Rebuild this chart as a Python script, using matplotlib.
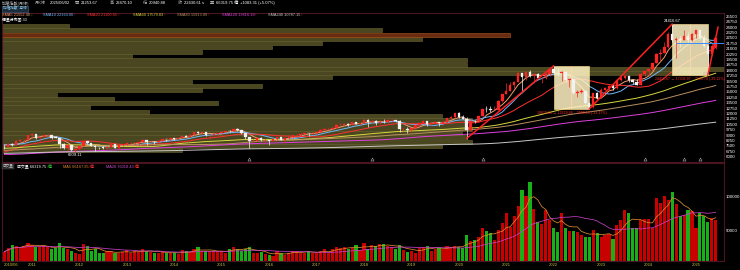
import numpy as np
import pandas as pd
import matplotlib
matplotlib.use('Agg')
import matplotlib.pyplot as plt
from matplotlib.patches import Rectangle

plt.rcParams['font.family'] = ['Liberation Sans', 'Noto Sans CJK TC', 'DejaVu Sans']

# ---------------- data (TAIEX monthly, 2010/06 - 2025/06) ----------------
start_year, start_month = 2010, 6

opens = [7374, 7329, 7760, 7616, 8237, 8287, 8372,
         8972, 9145, 8600, 8683, 9007, 9044, 8652, 8644, 7741, 7225, 7587, 6904,
         7072, 7517, 8121, 7933, 7501, 7301, 7296, 7270, 7398, 7715, 7166, 7580,
         7699, 7850, 7907, 7919, 8093, 8254, 8062, 8107, 7970, 8173, 8450, 8406,
         8612, 8462, 8639, 8849, 8791, 9075, 9393, 9315, 9436, 8966, 8974, 9187,
         9307, 9361, 9622, 9586, 9820, 9701, 9323, 8665, 8175, 8181, 8554, 8320,
         8338, 8145, 8411, 8745, 8377, 8536, 8666, 8984, 9068, 9167, 9290, 9240,
         9253, 9448, 9750, 9812, 9872, 10040, 10395, 10427, 10585, 10383, 10793, 10560,
         10642, 11104, 10815, 10919, 10657, 10875, 10836, 11057, 11063, 11006, 9802, 9888,
         9727, 9932, 10389, 10641, 10967, 10498, 10730, 10824, 10618, 10829, 11358, 11489,
         11997, 11495, 11292, 9708, 10992, 10942, 11621, 12665, 12592, 12516, 12546, 13723,
         14733, 15138, 15953, 16431, 17567, 17068, 17755, 17247, 17490, 16935, 16987, 17428,
         18219, 17674, 17652, 17693, 16593, 16807, 14826, 15000, 15095, 13425, 12949, 14880,
         14138, 15265, 15504, 15868, 15579, 16579, 16916, 17145, 16635, 16353, 16001, 17433,
         17931, 18151, 18966, 20294, 20397, 21175, 23033, 22199, 22268, 22225, 22820, 22263,
         23035, 23526, 22451, 21298, 20235, 21253.67]

highs = [7600, 7876, 7879, 8261, 8391, 8500, 8990,
         9220, 9145, 8760, 9090, 9106, 9050, 8934, 8644, 7831, 7740, 7637, 7219,
         7573, 8170, 8170, 7952, 7577, 7342, 7485, 7550, 7788, 7735, 7597, 7738,
         7903, 8000, 7972, 8093, 8399, 8254, 8235, 8167, 8266, 8465, 8451, 8623,
         8646, 8656, 8902, 8968, 9101, 9397, 9569, 9455, 9440, 9016, 9231, 9315,
         9521, 9631, 9701, 10014, 9973, 9757, 9335, 8714, 8488, 8733, 8671, 8484,
         8347, 8421, 8787, 8755, 8570, 8703, 9028, 9175, 9255, 9399, 9332, 9400,
         9498, 9810, 9972, 9957, 10086, 10513, 10609, 10626, 10637, 10812, 10854, 10739,
         11270, 11164, 11070, 11069, 11130, 11178, 11101, 11167, 11064, 11057, 10007, 10061,
         9986, 10408, 10655, 11012, 10967, 10800, 10936, 10830, 10977, 11386, 11589, 12000,
         12197, 11780, 11465, 11093, 11068, 11690, 12686, 13031, 12976, 13031, 13878, 14760,
         16238, 16341, 16440, 17709, 17600, 17890, 18034, 17591, 17671, 17061, 17817, 18248,
         18619.61, 18321, 17961, 17720, 16835, 16808, 15205, 15400, 15154, 13488, 14885, 15045,
         15493, 15684, 15931, 16021, 16634, 17334, 17463, 17207, 16811, 16765, 17458, 17946,
         18154, 18983, 20388, 20883, 21858, 23300, 24416.67, 22574, 22712, 23607, 23328, 23119,
         23546, 23740, 22830, 21500, 21737, 22470.10]

lows = [7032, 7282, 7550, 7605, 8042, 8097, 8349,
        8797, 8505, 8183, 8596, 8805, 8511, 8570, 7148, 7022, 6964, 6854, 6609.11,
        7030, 7538, 7800, 7432, 6857, 7000, 7072, 7263, 7364, 7163, 7068, 7504,
        7648, 7720, 7798, 7676, 8050, 7663, 7987, 7774, 7934, 8140, 8194, 8339,
        8321, 8403, 8581, 8720, 8691, 9048, 9183, 9167, 8935, 8501, 8845, 8860,
        9001, 9370, 9426, 9569, 9544, 9216, 8482, 7203, 8016, 8150, 8187, 8051,
        7628, 8112, 8350, 8332, 8053, 8406, 8618, 8911, 8932, 9070, 8852, 9044,
        9218, 9451, 9673, 9722, 9867, 10042, 10395, 10356, 10305, 10381, 10484, 10452,
        10664, 10189, 10625, 10370, 10571, 10607, 10725, 10829, 10807, 9400, 9564, 9319,
        9456, 9906, 10230, 10642, 10267, 10450, 10666, 10316, 10600, 10749, 11257, 11402,
        11401, 11268, 8523, 9619, 10631, 10880, 11614, 12236, 12206, 12507, 12504, 13642,
        14732, 15072, 15543, 16383, 15159, 16658, 17035, 16249, 16759, 16162, 16738, 17168,
        17450, 17227, 16529, 16395, 15616, 14713, 14342, 14887, 13298, 12629.48, 12800, 13981,
        14130, 15200, 15195, 15315, 15354, 16458, 16759, 16431, 16097, 15910, 15941, 17183,
        17188, 17950, 18996, 19302, 20362, 21136, 21929, 19663, 21190, 22180, 21908, 22007,
        22521, 22400, 21200, 17306.97, 20108, 20940.88]

closes = [7329, 7760, 7616, 8237, 8287, 8372, 8972,
          9145, 8600, 8683, 9007, 9044, 8652, 8644, 7741, 7225, 7587, 6904, 7072,
          7517, 8121, 7933, 7501, 7301, 7296, 7270, 7398, 7715, 7166, 7580, 7699,
          7850, 7907, 7919, 8093, 8254, 8062, 8107, 7970, 8173, 8450, 8406, 8612,
          8462, 8639, 8849, 8791, 9075, 9393, 9315, 9436, 8966, 8974, 9187, 9307,
          9361, 9622, 9586, 9820, 9701, 9323, 8665, 8175, 8181, 8554, 8320, 8338,
          8145, 8411, 8745, 8377, 8536, 8666, 8984, 9068, 9167, 9290, 9240, 9253,
          9448, 9750, 9812, 9872, 10040, 10395, 10427, 10585, 10383, 10793, 10560, 10642,
          11104, 10815, 10919, 10657, 10875, 10836, 11057, 11063, 11006, 9802, 9888, 9727,
          9932, 10389, 10641, 10967, 10498, 10730, 10824, 10618, 10829, 11358, 11489, 11997,
          11495, 11292, 9708, 10992, 10942, 11621, 12665, 12592, 12516, 12546, 13723, 14733,
          15138, 15953, 16431, 17567, 17068, 17755, 17247, 17490, 16935, 16987, 17428, 18219,
          17674, 17652, 17693, 16593, 16807, 14826, 15000, 15095, 13425, 12949, 14880, 14138,
          15265, 15504, 15868, 15579, 16579, 16916, 17145, 16635, 16353, 16001, 17433, 17931,
          18151, 18966, 20294, 20397, 21175, 23033, 22199, 22268, 22225, 22820, 22263, 23035,
          23526, 22451, 21298, 20235, 21347.30, 22430.61]

# monthly turnover (億)
volumes = [18400, 23400, 29000, 26900, 25800, 26900, 32000,
           29000, 25000, 26000, 27000, 25000, 22000, 24000, 31000, 24000, 22000, 20000, 17000,
           15000, 30000, 27000, 20000, 22000, 16000, 16000, 19000, 20000, 16000, 17000, 18000,
           21000, 16000, 19000, 18000, 22000, 20000, 18000, 16000, 17000, 19000, 16000, 16000,
           17000, 15000, 21000, 19000, 18000, 22000, 26000, 19000, 19000, 19000, 19000, 20000,
           19000, 17000, 23000, 26000, 22000, 20000, 22000, 26000, 17000, 17000, 18000, 15000,
           14000, 12000, 19000, 16000, 14000, 17000, 19000, 19000, 17000, 17000, 20000, 16000,
           17000, 19000, 22000, 17000, 22000, 25000, 24000, 26000, 23000, 24000, 29000, 21000,
           31000, 23000, 28000, 27000, 30000, 30000, 27000, 25000, 23000, 28000, 21000, 18000,
           20000, 17000, 24000, 26000, 27000, 20000, 23000, 24000, 23000, 27000, 25000, 27000,
           26000, 24000, 44000, 34000, 36000, 40000, 53000, 50000, 46000, 36000, 51000, 61000,
           76000, 55000, 71000, 86000, 110000, 101000, 123000, 82000, 62000, 60000, 80000, 66000,
           53000, 48000, 76000, 53000, 50000, 50000, 48000, 43000, 41000, 41000, 51000, 46000,
           41000, 43000, 45000, 38000, 58000, 66000, 81000, 76000, 54000, 54000, 66000, 67000,
           67000, 53000, 99000, 91000, 101000, 96000, 107000, 90000, 71000, 73000, 81000, 79000,
           53000, 76000, 72000, 63000, 68000, 66319.75]

# earlier monthly closes (2000/01 - 2010/05) used only to warm up the long moving averages
history_close = [9744, 9435, 9854, 8820, 8940, 8265, 8114, 7616, 6185, 5545, 5256, 4739,
                 5936, 5674, 5797, 5381, 4935, 4883, 4352, 4464, 3636, 3903, 4441, 5551,
                 5873, 5841, 6167, 6065, 5675, 5153, 4940, 4764, 4191, 4579, 4680, 4452,
                 4941, 4432, 4321, 4148, 4555, 4872, 5318, 5650, 5611, 6045, 5771, 5890,
                 6375, 6750, 6522, 6117, 5977, 5840, 5420, 5765, 5845, 5706, 5845, 6140,
                 5994, 6207, 6006, 5819, 6012, 6242, 6311, 6033, 6119, 5764, 6203, 6548,
                 6532, 6562, 6613, 7171, 6846, 6704, 6455, 6611, 6884, 7021, 7321, 7823,
                 7699, 7901, 7884, 7875, 8145, 8883, 9287, 8982, 9411, 9711, 8586, 8506,
                 7521, 8412, 8572, 8920, 8619, 7523, 7024, 7046, 5719, 4870, 4460, 4591,
                 4248, 4557, 5210, 6413, 6890, 6432, 6979, 6826, 7509, 7340, 7582, 8188,
                 7640, 7436, 7920, 8004, 7374]

# volume-by-price profile, 30 bins from lowest low to highest high (bottom -> top)
profile_vol = [180, 440, 470, 465, 460, 470, 465, 470, 440, 147,
               88, 216, 112, 55, 200, 260, 190, 330, 700, 722,
               465, 465, 130, 200, 270, 320, 420, 508, 380, 67]
profile_highlight_bin = 27

sma_periods = [5, 10, 20, 60, 80, 120, 240]
sma_colors = ['#f0a070', '#70b8ff', '#ff3030', '#d8d840', '#b89060', '#e040e0', '#c8c8c8']
sma_labels = ['SMA5 21552.40', 'SMA10 22163.00', 'SMA20 21100.65', 'SMA60 17579.83',
              'SMA80 15913.89', 'SMA120 13816.18', 'SMA240 10787.15']
sma_arrows = [('↓', '#30d030'), ('↑', '#ff3030'), ('↑', '#ff3030'), ('↑', '#ff3030'),
              ('↑', '#ff3030'), ('↑', '#ff3030'), ('↑', '#ff3030')]

box_ranges = [("2022/01", "2022/10"), ("2024/07", "2025/04")]
trend_pairs = [("2020/03", "2022/01"), ("2022/10", "2024/07"), ("2025/04", "2025/06")]
marker_months = ["2015/08", "2018/03", "2020/07", "2023/12", "2024/10", "2025/02"]
ref_line_price = 21800

# ---------------- derived ----------------
n = len(closes)
months = []
yy, mm = start_year, start_month
for _ in range(n):
    months.append(f"{yy}/{mm:02d}")
    mm += 1
    if mm > 12:
        mm = 1
        yy += 1
midx = {m: i for i, m in enumerate(months)}

o = np.array(opens, float); h = np.array(highs, float)
l = np.array(lows, float); c = np.array(closes, float)
v = np.array(volumes, float)
x = np.arange(n)

full = pd.Series(list(history_close) + list(closes), dtype=float)
off = len(history_close)

W, H = 740, 270
fig = plt.figure(figsize=(W / 100, H / 100), dpi=100, facecolor='black')
renderer = fig.canvas.get_renderer()


def fx(px):
    return px / W


def fy(py):
    return 1 - py / H


ax_p = fig.add_axes([fx(2), fy(162), fx(724) - fx(2), fy(12.5) - fy(162)])
ax_v = fig.add_axes([fx(2), fy(261), fx(724) - fx(2), fy(163) - fy(261)])

XL = (-0.58, 182.1)
for ax in (ax_p, ax_v):
    ax.set_facecolor('black')
    ax.set_xlim(*XL)
    for sp in ax.spines.values():
        sp.set_color('#4a1422')
        sp.set_linewidth(0.8)

ax_p.set_ylim(5262, 26015)
ax_v.set_ylim(4478, 150746)

# volume profile
edges = np.linspace(l.min(), h.max(), len(profile_vol) + 1)
centers = (edges[:-1] + edges[1:]) / 2
binh = edges[1] - edges[0]
pv = np.array(profile_vol, float)
widths = pv / pv.max() * (XL[1] - XL[0])
pcol = ['#4a4620'] * len(pv)
ecol = ['#6a6532'] * len(pv)
pcol[profile_highlight_bin] = '#6a2c10'
ecol[profile_highlight_bin] = '#b05a20'
ax_p.barh(centers, widths, height=binh * 0.92, left=XL[0], color=pcol,
          edgecolor=ecol, linewidth=0.4, zorder=1)

# moving averages
for p, col in zip(sma_periods, sma_colors):
    ma = full.rolling(p, min_periods=1).mean().iloc[off:].values
    ax_p.plot(x, ma, color=col, lw=0.7, zorder=2)

# boxes with midlines
for a, b in box_ranges:
    i0, i1 = midx[a], midx[b]
    top = h[i0:i1 + 1].max()
    bot = l[i0:i1 + 1].min()
    mid = (i0 + i1) / 2
    ax_p.vlines(mid, bot, top, color='#ff3030', lw=0.6, zorder=2.5)
    ax_p.add_patch(Rectangle((i0, bot), i1 - i0, top - bot, facecolor='#fff3c2',
                             edgecolor='#ffe090', lw=0.5, alpha=0.86, zorder=3))
    ax_p.text(mid, bot - 250, f"{top:.2f} → {bot:.2f}   {bot - top:.2f} ({(bot - top) / top * 100:.2f}%)",
              color='#ff3030', fontsize=2.6, ha='center', va='top', zorder=6)

# candles
up = c >= o
ccol = np.where(up, '#ff2424', '#f2f2f2')
ax_p.vlines(x, l, h, colors=ccol, lw=0.5, zorder=4)
body_low = np.minimum(o, c)
body_h = np.maximum(np.abs(c - o), 30)
ax_p.bar(x, body_h, bottom=body_low, width=0.62, color=ccol, edgecolor=ccol,
         linewidth=0.2, zorder=4.1)

# trend lines
for k, (a, b) in enumerate(trend_pairs):
    i0, i1 = midx[a], midx[b]
    y0, y1 = l[i0], h[i1]
    xe, ye = i1, y1
    if k == len(trend_pairs) - 1:
        slope = (y1 - y0) / (i1 - i0)
        xe = i1 + 0.6
        ye = y1 + slope * 0.6
    ax_p.plot([i0, xe], [y0, ye], color='#ff2020', lw=1.1, zorder=5, solid_capstyle='round')

# reference line
ax_p.hlines(ref_line_price, 170, XL[1], color='#3a8cff', lw=0.7, zorder=5)

# high/low labels
imin, imax = int(np.argmin(l)), int(np.argmax(h))
ax_p.text(imin, l[imin] - 120, f"{l[imin]:.2f}", color='white', fontsize=3, ha='center', va='top', zorder=6)
ax_p.text(imax, h[imax] + 150, f"{h[imax]:.2f}", color='white', fontsize=3, ha='center', va='bottom', zorder=6)

# small event markers
mx = [midx[m] for m in marker_months]
ax_p.plot(mx, [5650] * len(mx), linestyle='none', marker='^', ms=2.2, mfc='none',
          mec='#b0b0b0', mew=0.4, zorder=6, clip_on=False)

# price axis
ax_p.yaxis.tick_right()
pt = np.arange(6000, 25501, 750)
ax_p.set_yticks(pt)
ax_p.set_yticklabels([f"{int(t)}" for t in pt])
ax_p.tick_params(axis='y', colors='white', labelsize=3.2, length=0, pad=1.5)
ax_p.set_xticks([])

# volume panel
vcol = ['#c80000' if (i == 0 or c[i] >= c[i - 1]) else '#18b018' for i in range(n)]
ax_v.bar(x, v, width=0.8, color=vcol, zorder=2)
fullv = pd.Series(v)
ax_v.plot(x, fullv.rolling(5, min_periods=1).mean(), color='#e08a30', lw=0.55, zorder=3)
ax_v.plot(x, fullv.rolling(20, min_periods=1).mean(), color='#c840c8', lw=0.55, zorder=3)
ax_v.yaxis.tick_right()
ax_v.set_yticks([50000, 100000])
ax_v.set_yticklabels(['50000', '100000'])
ax_v.tick_params(axis='y', colors='white', labelsize=3.2, length=0, pad=1.5)

year_pos = [0] + [midx[f"{yr}/01"] for yr in range(2011, 2026)]
year_lab = ['2010/06'] + [str(yr) for yr in range(2011, 2026)]
ax_v.set_xticks(year_pos)
ax_v.set_xticklabels(year_lab)
ax_v.tick_params(axis='x', colors='#c8c040', labelsize=3.0, length=0, pad=1.2)
ax_v.get_xticklabels()[0].set_ha('left')
ax_v.get_xticklabels()[0].set_x(-0.3)

# ---------------- header texts ----------------
FS = 3.0


def ft(px, py, s, color, fs=FS, **kw):
    """place a text at pixel (px, py); return its right edge in pixels"""
    t = fig.text(fx(px), fy(py), s, color=color, fontsize=fs, va='center', ha='left', **kw)
    bb = t.get_window_extent(renderer=renderer)
    return bb.x1


ft(2, 3.2, '加權指數(月線)', '#b0b0b0')
ft(35, 3.2, '月K線', '#b0b0b0')
ft(50, 3.2, '2025/06/02', 'white')
for px, lab, val in [(75, '開', '21253.67'), (110, '高', '22470.10'), (143, '低', '20940.88'),
                     (178, '收', '22430.61 s'), (210, '量', '66319.75 億')]:
    e = ft(px, 3.2, lab, '#b0b0b0')
    ft(e + 1.5, 3.2, val, 'white')
ft(240, 3.2, '+1083.31 (+5.07%)', 'white')

fig.text(fx(3), fy(8.7), '加權指數  月線', color='#8fc8e0', fontsize=2.6, va='center', ha='left',
         bbox=dict(facecolor='#1c2c3c', edgecolor='#406a8a', pad=0.6, lw=0.4))

sma_x = [2, 43, 87, 133, 177, 222, 268]
for px, lab, col, (arr, acol) in zip(sma_x, sma_labels, sma_colors, sma_arrows):
    e = ft(px, 15.2, lab, col, fs=2.8)
    ft(e + 0.3, 15.2, arr, acol, fs=2.8)
ft(2, 19.8, '價量分布圖 30', 'white', fs=2.8)

# volume header
fig.text(fx(3), fy(166.7), '成交量', color='#c0c0c0', fontsize=2.6, va='center', ha='left',
         bbox=dict(facecolor='#2a2a2a', edgecolor='#555555', pad=0.4, lw=0.3))
e = ft(17, 166.7, '成交量 66319.75', 'white', fs=2.8)
ft(e + 0.3, 166.7, '↑億', '#30d030', fs=2.8)
e = ft(63, 166.7, 'MA5 66167.85', '#e08a30', fs=2.8)
ft(e + 0.3, 166.7, '↑億', '#ff3030', fs=2.8)
e = ft(106, 166.7, 'MA20 76018.43', '#d050d0', fs=2.8)
ft(e + 0.3, 166.7, '↑億', '#ff3030', fs=2.8)

fig.savefig('out.png', dpi=100, facecolor='black')
